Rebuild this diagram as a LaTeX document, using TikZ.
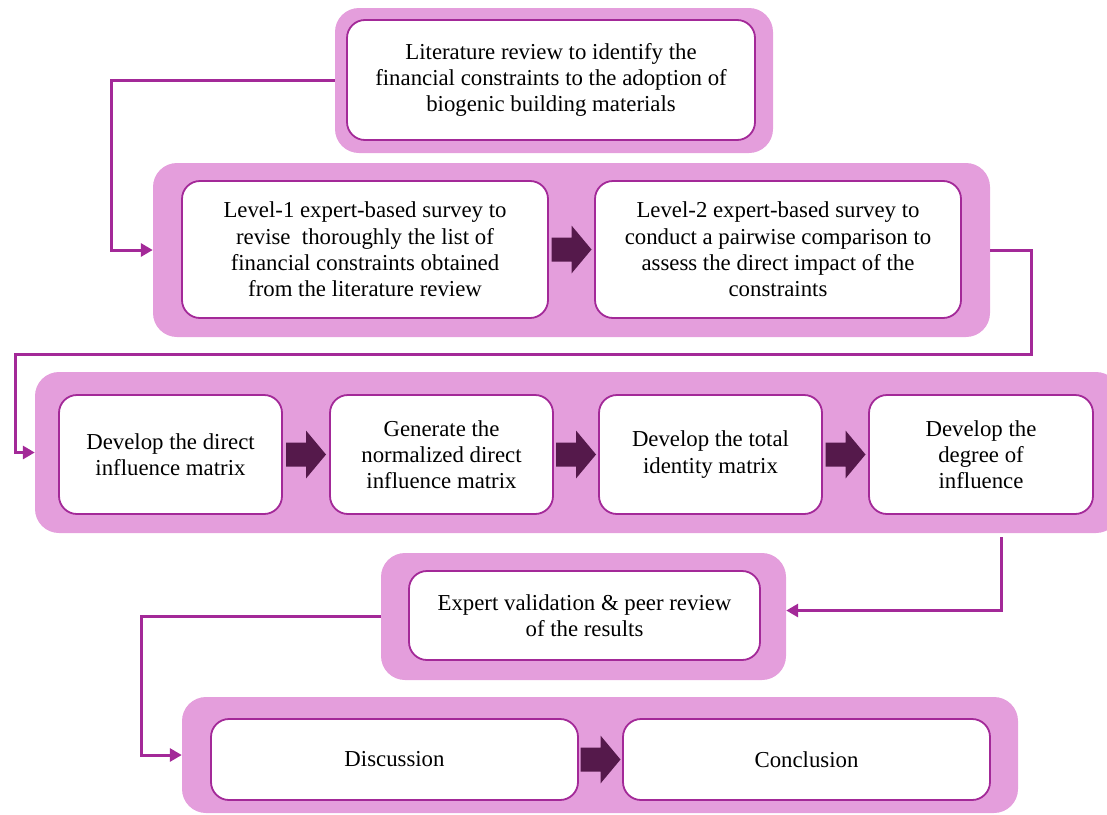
\documentclass[tikz,border=0pt]{standalone}
\usepackage{fontspec}
\setmainfont{Liberation Serif}
\usetikzlibrary{arrows.meta,calc}
\definecolor{bandpink}{RGB}{228,158,220}
\definecolor{purp}{RGB}{163,41,152}
\definecolor{darkp}{RGB}{85,25,75}
\tikzset{
  band/.style={fill=bandpink, draw=none, rounded corners=24pt, inner sep=0pt},
  stepbox/.style={fill=white, draw=purp, line width=1.8pt, rounded corners=18pt, align=center, inner sep=0pt, font=\fontsize{22.8}{26.3}\selectfont},
  conn/.style={draw=purp, line width=3pt, -{Triangle[length=12pt,width=13pt]}},
  blockarrow/.style={fill=darkp, draw=none}
}
\newcommand\blockarr[1]{%
  \fill[blockarrow] ($(#1)+(-20,-12)$) -- ($(#1)+(0,-12)$) -- ($(#1)+(0,-24)$) -- ($(#1)+(20,0)$) -- ($(#1)+(0,24)$) -- ($(#1)+(0,12)$) -- ($(#1)+(-20,12)$) -- cycle;}
\begin{document}
\begin{tikzpicture}[x=1pt,y=-1pt]
\useasboundingbox (0,0) rectangle (1107,814);
\clip (0,0) rectangle (1107,814);
% bands
\node[band, minimum width=438pt, minimum height=145pt] (band1) at (554,80.5) {};
\node[band, minimum width=837pt, minimum height=174pt] (band2) at (571.5,250) {};
\node[band, minimum width=1085pt, minimum height=161pt] (band3) at (577.5,452.5) {};
\node[band, minimum width=405pt, minimum height=127pt] (band4) at (583.5,616.5) {};
\node[band, minimum width=836pt, minimum height=116pt] (band5) at (600,755) {};
% boxes
\node[stepbox, minimum width=408pt, minimum height=120pt] (lit) at (551,80) {Literature review to identify the\\financial constraints to the adoption of\\biogenic building materials};
\node[stepbox, minimum width=366pt, minimum height=137pt] (lv1) at (365,249.5) {Level-1 expert-based survey to\\revise~ thoroughly the list of\\financial constraints obtained\\from the literature review};
\node[stepbox, minimum width=366pt, minimum height=137pt] (lv2) at (778,249.5) {Level-2 expert-based survey to\\conduct a pairwise comparison to\\assess the direct impact of the\\constraints};
\node[stepbox, minimum width=223pt, minimum height=119pt] (b1) at (170.5,454.5) {Develop the direct\\influence matrix};
\node[stepbox, minimum width=223pt, minimum height=119pt] (b2) at (441.5,454.5) {Generate the\\normalized direct\\influence matrix};
\node[stepbox, minimum width=223pt, minimum height=119pt] (b3) at (710.5,454.5) {Develop the total\\identity matrix};
\node[stepbox, minimum width=224pt, minimum height=119pt] (b4) at (981,454.5) {Develop the\\degree of\\influence};
\node[stepbox, minimum width=351pt, minimum height=89pt] (ev) at (584.5,615.5) {Expert validation \& peer review\\of the results};
\node[stepbox, minimum width=367pt, minimum height=81pt] (disc) at (394.5,759.5) {Discussion};
\node[stepbox, minimum width=367pt, minimum height=81pt] (concl) at (806.5,759.5) {Conclusion};
% block arrows
\coordinate (a1) at ($(lv1.east)!0.5!(lv2.west)$);
\coordinate (a2) at ($(b1.east)!0.5!(b2.west)$);
\coordinate (a3) at ($(b2.east)!0.5!(b3.west)$);
\coordinate (a4) at ($(b3.east)!0.5!(b4.west)$);
\coordinate (a5) at ($(disc.east)!0.5!(concl.west)$);
\blockarr{a1}\blockarr{a2}\blockarr{a3}\blockarr{a4}\blockarr{a5}
% connectors
\coordinate (k1) at (111,80.5);
\draw[conn] (band1.west) -- (k1) |- (band2.west);
\coordinate (k2a) at (1031,250);
\coordinate (k2b) at (1031,354);
\coordinate (k2c) at (15,354);
\draw[conn] (band2.east) -- (k2a) -- (k2b) -- (k2c) |- (band3.west);
\coordinate (k3) at (1001,537);
\draw[conn] (k3) |- ([yshift=6pt]band4.east);
\coordinate (k4) at (141,616.5);
\draw[conn] (band4.west) -- (k4) |- (band5.west);
\end{tikzpicture}
\end{document}
